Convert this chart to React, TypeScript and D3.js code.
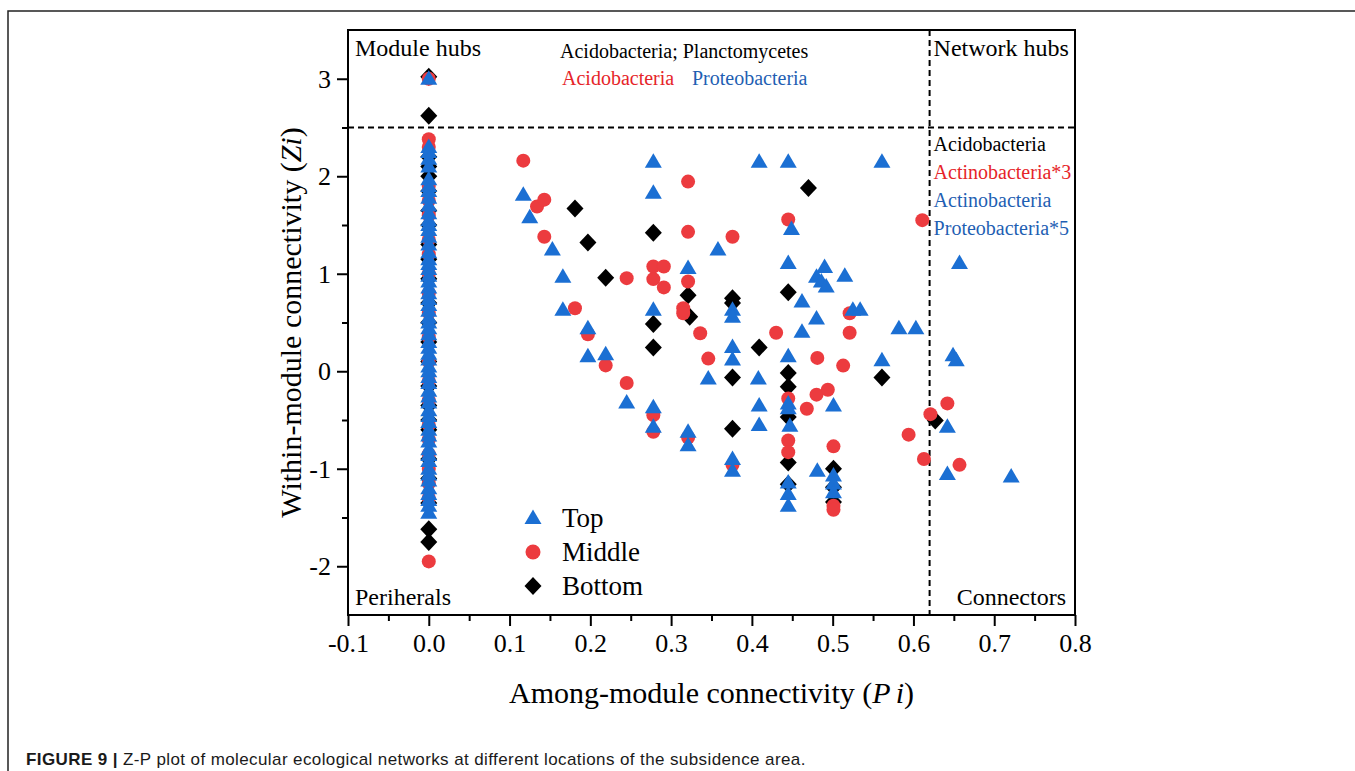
import React, { useEffect, useRef } from "react";
import * as d3 from "d3";

const W = 1355;
const H = 771;

// Axis ticks
const xMajorTicks = [-0.1, 0, 0.1, 0.2, 0.3, 0.4, 0.5, 0.6, 0.7, 0.8];
const xMinorTicks = [-0.05, 0.05, 0.15, 0.25, 0.35, 0.45, 0.55, 0.65, 0.75];
const yMajorTicks = [-2, -1, 0, 1, 2, 3];
const yMinorTicks = [-1.5, -0.5, 0.5, 1.5, 2.5];

// Thresholds separating the four roles
const ziThreshold = 2.5;
const piThreshold = 0.62;

// Nodes with Pi = 0 (peripheral column), Zi values per location
const topColumnZi = [
  3.0, 2.3, 2.25, 2.18, 2.1, 1.97, 1.9, 1.85, 1.78, 1.7, 1.62, 1.55, 1.5, 1.45, 1.38, 1.3,
  1.22, 1.15, 1.1, 1.05, 0.98, 0.92, 0.86, 0.8, 0.74, 0.68, 0.62, 0.55, 0.5, 0.44, 0.38,
  0.3, 0.24, 0.18, 0.12, 0.05, 0.0, -0.06, -0.12, -0.2, -0.26, -0.32, -0.4, -0.46, -0.52,
  -0.6, -0.66, -0.72, -0.8, -0.86, -0.92, -1.0, -1.06, -1.12, -1.2, -1.26, -1.32, -1.38, -1.45,
];
const middleColumnZi = [
  3.0, 2.38, 2.3, 1.9, 1.75, 1.6, 1.35, 1.2, 1.0, 0.8, 0.6, 0.35, 0.1, -0.1, -0.3, -0.55,
  -0.7, -0.85, -1.0, -1.15, -1.3, -1.95,
];
const bottomColumnZi = [
  3.02, 2.62, 2.2, 2.1, 2.0, 1.85, 1.65, 1.5, 1.3, 1.15, 0.95, 0.7, 0.5, 0.3, 0.1, -0.15,
  -0.35, -0.5, -0.6, -0.9, -1.1, -1.35, -1.62, -1.75,
];

// Nodes with Pi > 0: [Pi, Zi]
const topNodes: [number, number][] = [
  [0.117, 1.81], [0.125, 1.58], [0.153, 1.25], [0.166, 0.97], [0.166, 0.63], [0.197, 0.44],
  [0.197, 0.155], [0.219, 0.175], [0.245, -0.32], [0.278, 2.15], [0.278, 1.83], [0.278, 0.63],
  [0.278, -0.37], [0.278, -0.57], [0.321, 1.06], [0.321, -0.62], [0.321, -0.76], [0.346, -0.075],
  [0.358, 1.25], [0.376, 0.63], [0.376, 0.56], [0.376, 0.25], [0.376, 0.12], [0.376, -0.9],
  [0.376, -1.02], [0.409, 2.15], [0.408, -0.075], [0.409, -0.35], [0.409, -0.55], [0.445, 2.15],
  [0.449, 1.46], [0.445, 1.11], [0.445, 0.155], [0.445, -0.33], [0.445, -0.38], [0.447, -0.56],
  [0.445, -1.14], [0.445, -1.26], [0.445, -1.38], [0.462, 0.715], [0.462, 0.405], [0.48, 0.97],
  [0.486, 0.92], [0.492, 0.87], [0.49, 1.07], [0.48, 0.54], [0.481, -1.02], [0.501, -0.35],
  [0.501, -1.07], [0.501, -1.15], [0.501, -1.24], [0.515, 0.98], [0.525, 0.63], [0.534, 0.63],
  [0.561, 2.15], [0.561, 0.113], [0.582, 0.44], [0.603, 0.44], [0.642, -0.57], [0.649, 0.165],
  [0.653, 0.113], [0.642, -1.055], [0.657, 1.11], [0.721, -1.08],
];
const middleNodes: [number, number][] = [
  [0.117, 2.16], [0.134, 1.69], [0.143, 1.76], [0.143, 1.38], [0.181, 0.646], [0.197, 0.38],
  [0.219, 0.06], [0.245, 0.955], [0.245, -0.12], [0.278, 1.075], [0.291, 1.075], [0.278, 0.945],
  [0.291, 0.86], [0.278, -0.45], [0.278, -0.62], [0.315, 0.646], [0.315, 0.595], [0.321, 1.945],
  [0.321, 1.43], [0.321, 0.92], [0.321, -0.68], [0.336, 0.39], [0.346, 0.13], [0.376, 1.38],
  [0.376, -0.96], [0.43, 0.395], [0.445, 1.556], [0.445, -0.28], [0.445, -0.71], [0.445, -0.83],
  [0.468, -0.385], [0.48, -0.24], [0.494, -0.19], [0.481, 0.137], [0.501, -0.77], [0.501, -1.38],
  [0.501, -1.42], [0.513, 0.058], [0.521, 0.595], [0.521, 0.395], [0.594, -0.65], [0.611, 1.55],
  [0.613, -0.9], [0.621, -0.44], [0.642, -0.33], [0.657, -0.96],
];
const bottomNodes: [number, number][] = [
  [0.181, 1.67], [0.197, 1.32], [0.219, 0.96], [0.278, 1.42], [0.278, 0.485], [0.278, 0.244],
  [0.321, 0.78], [0.323, 0.56], [0.376, 0.75], [0.376, 0.7], [0.376, -0.065], [0.376, -0.59],
  [0.409, 0.244], [0.445, 0.81], [0.445, -0.017], [0.445, -0.16], [0.445, -0.47], [0.445, -0.935],
  [0.445, -1.16], [0.47, 1.88], [0.501, -1.0], [0.501, -1.19], [0.501, -1.34], [0.561, -0.065],
  [0.627, -0.505],
];

const legendLabels = ["Top", "Middle", "Bottom"];

const BLUE = "#1b6fd3";
const RED = "#ec3b3f";
const BLACK = "#000000";
const TEXT_RED = "#e62429";
const TEXT_BLUE = "#1f5fb3";
const SERIF = "'Liberation Serif', 'Times New Roman', serif";

const trianglePath = "M0,-8.5 L8.5,6 L-8.5,6 Z";
const diamondPath = "M0,-9 L8.5,0 L0,9 L-8.5,0 Z";

export default function App() {
  const ref = useRef<SVGSVGElement | null>(null);

  useEffect(() => {
    const svg = d3.select(ref.current);
    svg.selectAll("*").remove();

    const x = d3.scaleLinear().domain([-0.1, 0.8]).range([348, 1075]);
    const y = d3.scaleLinear().domain([-2.5, 3.5]).range([615, 30]);

    // Figure border
    svg.append("path")
      .attr("d", `M8,${H} L8,11 L${W},11`)
      .attr("fill", "none")
      .attr("stroke", "#222")
      .attr("stroke-width", 1.5);

    // Role threshold lines
    svg.append("line")
      .attr("x1", x(-0.1)).attr("x2", x(0.8))
      .attr("y1", y(ziThreshold)).attr("y2", y(ziThreshold))
      .attr("stroke", "#000").attr("stroke-width", 2).attr("stroke-dasharray", "6,4");
    svg.append("line")
      .attr("x1", x(piThreshold)).attr("x2", x(piThreshold))
      .attr("y1", y(3.5)).attr("y2", y(-2.5))
      .attr("stroke", "#000").attr("stroke-width", 2).attr("stroke-dasharray", "6,4");

    // Points: bottom first, then middle, top last
    const plot = svg.append("g");
    const bottomAll: [number, number][] = bottomColumnZi.map((z) => [0, z] as [number, number]).concat(bottomNodes);
    const middleAll: [number, number][] = middleColumnZi.map((z) => [0, z] as [number, number]).concat(middleNodes);
    const topAll: [number, number][] = topColumnZi.map((z) => [0, z] as [number, number]).concat(topNodes);

    plot.selectAll("path.bottom").data(bottomAll).enter().append("path")
      .attr("class", "bottom")
      .attr("d", diamondPath)
      .attr("transform", (d) => `translate(${x(d[0])},${y(d[1])})`)
      .attr("fill", BLACK);
    plot.selectAll("circle.middle").data(middleAll).enter().append("circle")
      .attr("class", "middle")
      .attr("cx", (d) => x(d[0])).attr("cy", (d) => y(d[1])).attr("r", 7)
      .attr("fill", RED);
    plot.selectAll("path.top").data(topAll).enter().append("path")
      .attr("class", "top")
      .attr("d", trianglePath)
      .attr("transform", (d) => `translate(${x(d[0])},${y(d[1])})`)
      .attr("fill", BLUE);

    // Axes
    const fmtX = (d: d3.NumberValue) => (+d).toFixed(1);
    const fmtY = (d: d3.NumberValue) => String(+d);

    const gx = svg.append("g").attr("transform", `translate(0,${y(-2.5)})`);
    gx.call(d3.axisBottom(x).tickValues(xMajorTicks).tickFormat(fmtX).tickSize(11).tickSizeOuter(0).tickPadding(8));
    const gxm = svg.append("g").attr("transform", `translate(0,${y(-2.5)})`);
    gxm.call(d3.axisBottom(x).tickValues(xMinorTicks).tickFormat(() => "").tickSize(6).tickSizeOuter(0));

    const gy = svg.append("g").attr("transform", `translate(${x(-0.1)},0)`);
    gy.call(d3.axisLeft(y).tickValues(yMajorTicks).tickFormat(fmtY).tickSize(11).tickSizeOuter(0).tickPadding(6));
    const gym = svg.append("g").attr("transform", `translate(${x(-0.1)},0)`);
    gym.call(d3.axisLeft(y).tickValues(yMinorTicks).tickFormat(() => "").tickSize(6).tickSizeOuter(0));

    [gx, gxm, gy, gym].forEach((g) => {
      g.select(".domain").remove();
      g.selectAll(".tick line").attr("stroke", "#000").attr("stroke-width", 2);
      g.selectAll(".tick text")
        .attr("fill", "#000")
        .attr("font-family", SERIF)
        .attr("font-size", 26);
    });

    // Plot frame
    svg.append("rect")
      .attr("x", x(-0.1)).attr("y", y(3.5))
      .attr("width", x(0.8) - x(-0.1)).attr("height", y(-2.5) - y(3.5))
      .attr("fill", "none").attr("stroke", "#000").attr("stroke-width", 2);

    // Axis titles
    const xt = svg.append("text")
      .attr("x", (x(-0.1) + x(0.8)) / 2).attr("y", 703)
      .attr("text-anchor", "middle")
      .attr("font-family", SERIF).attr("font-size", 30).attr("fill", "#000");
    xt.append("tspan").text("Among-module connectivity (");
    xt.append("tspan").attr("font-style", "italic").text("P");
    xt.append("tspan").attr("font-style", "italic").attr("dx", 5).text("i");
    xt.append("tspan").text(")");

    const yt = svg.append("text")
      .attr("transform", `translate(301,${(y(3.5) + y(-2.5)) / 2}) rotate(-90)`)
      .attr("text-anchor", "middle")
      .attr("font-family", SERIF).attr("font-size", 30).attr("fill", "#000");
    yt.append("tspan").text("Within-module connectivity (");
    yt.append("tspan").attr("font-style", "italic").text("Zi");
    yt.append("tspan").text(")");

    // Region labels
    const label = (tx: number, ty: number, text: string, size: number, fill: string, anchor = "start") =>
      svg.append("text")
        .attr("x", tx).attr("y", ty)
        .attr("text-anchor", anchor)
        .attr("font-family", SERIF).attr("font-size", size).attr("fill", fill)
        .text(text);

    label(355, 56, "Module hubs", 24, "#000");
    label(x(piThreshold) + 4, 56, "Network hubs", 24, "#000");
    label(355, 605, "Periherals", 24, "#000");
    label(x(0.8) - 9, 605, "Connectors", 24, "#000", "end");

    // Taxa annotations
    label(560, 58, "Acidobacteria; Planctomycetes", 20, "#000");
    label(562, 85, "Acidobacteria", 20, TEXT_RED);
    label(692, 85, "Proteobacteria", 20, TEXT_BLUE);

    const nx = x(piThreshold) + 4;
    label(nx, 151, "Acidobacteria", 20, "#000");
    label(nx, 179, "Actinobacteria*3", 20, TEXT_RED);
    label(nx, 207, "Actinobacteria", 20, TEXT_BLUE);
    label(nx, 235, "Proteobacteria*5", 20, TEXT_BLUE);

    // Legend
    const legend = svg.append("g").attr("transform", "translate(533,518)");
    legendLabels.forEach((name, i) => {
      const g = legend.append("g").attr("transform", `translate(0,${i * 34})`);
      if (i === 0) g.append("path").attr("d", trianglePath).attr("fill", BLUE);
      if (i === 1) g.append("circle").attr("r", 7.5).attr("fill", RED);
      if (i === 2) g.append("path").attr("d", diamondPath).attr("fill", BLACK);
      g.append("text")
        .attr("x", 29).attr("y", 9)
        .attr("font-family", SERIF).attr("font-size", 27).attr("fill", "#000")
        .text(name);
    });

    // Caption
    const cap = svg.append("text")
      .attr("x", 26).attr("y", 765)
      .attr("font-family", "'Liberation Sans', Arial, sans-serif")
      .attr("font-size", 17).attr("letter-spacing", 0.4).attr("fill", "#1a1a1a");
    cap.append("tspan").attr("font-weight", "bold").text("FIGURE 9 | ");
    cap.append("tspan").text("Z-P plot of molecular ecological networks at different locations of the subsidence area.");
  }, []);

  return (
    <svg
      ref={ref}
      width={W}
      height={H}
      style={{ position: "absolute", left: 0, top: 0, background: "#fff" }}
    />
  );
}
